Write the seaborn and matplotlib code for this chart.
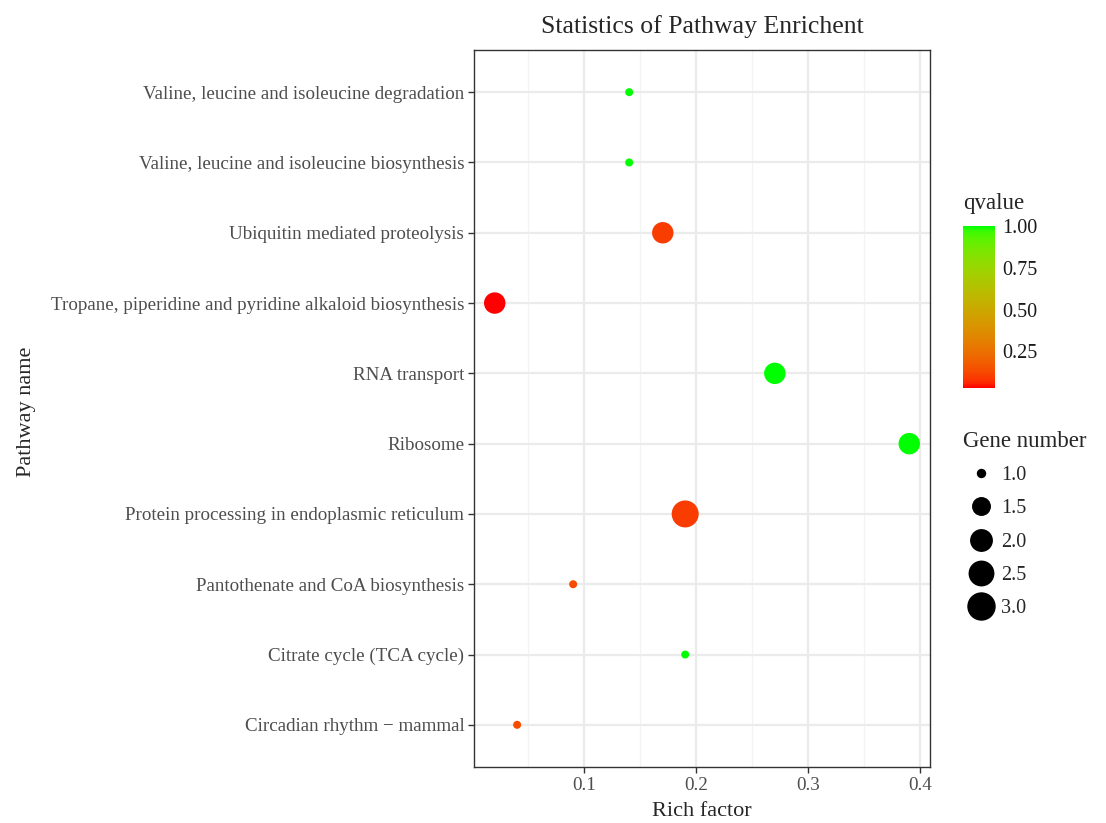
import numpy as np
import pandas as pd
import matplotlib
import matplotlib.pyplot as plt
import seaborn as sns
from matplotlib.colors import LinearSegmentedColormap, Normalize
from matplotlib.lines import Line2D
from matplotlib.ticker import MultipleLocator

pathways = [
    "Valine, leucine and isoleucine degradation",
    "Valine, leucine and isoleucine biosynthesis",
    "Ubiquitin mediated proteolysis",
    "Tropane, piperidine and pyridine alkaloid biosynthesis",
    "RNA transport",
    "Ribosome",
    "Protein processing in endoplasmic reticulum",
    "Pantothenate and CoA biosynthesis",
    "Citrate cycle (TCA cycle)",
    "Circadian rhythm \u2212 mammal",
]
rich_factor = [0.14, 0.14, 0.17, 0.02, 0.27, 0.39, 0.19, 0.09, 0.19, 0.04]
qvalue = [1.0, 1.0, 0.10, 0.03, 1.0, 1.0, 0.10, 0.13, 1.0, 0.13]
gene_number = [1, 1, 2, 2, 2, 2, 3, 1, 1, 1]

size_levels = [1.0, 1.5, 2.0, 2.5, 3.0]
q_ticks = [0.25, 0.50, 0.75, 1.00]

df = pd.DataFrame({"pathway": pathways, "rich": rich_factor,
                   "q": qvalue, "genes": gene_number})

sns.set_theme(style="white")
plt.rcParams["font.family"] = ["Liberation Serif", "DejaVu Serif"]


# red -> green gradient interpolated in Lab space (like ggplot2)
def srgb_to_lab(rgb):
    c = np.array(rgb, dtype=float)
    c = np.where(c > 0.04045, ((c + 0.055) / 1.055) ** 2.4, c / 12.92)
    m = np.array([[0.4124, 0.3576, 0.1805],
                  [0.2126, 0.7152, 0.0722],
                  [0.0193, 0.1192, 0.9505]])
    xyz = m @ c / np.array([0.95047, 1.0, 1.08883])
    f = np.where(xyz > 0.008856, np.cbrt(xyz), 7.787 * xyz + 16 / 116)
    return np.array([116 * f[1] - 16, 500 * (f[0] - f[1]), 200 * (f[1] - f[2])])


def lab_to_srgb(lab):
    L, a, b = lab
    fy = (L + 16) / 116
    fx = fy + a / 500
    fz = fy - b / 200
    f = np.array([fx, fy, fz])
    xyz = np.where(f ** 3 > 0.008856, f ** 3, (f - 16 / 116) / 7.787)
    xyz = xyz * np.array([0.95047, 1.0, 1.08883])
    minv = np.array([[3.2406, -1.5372, -0.4986],
                     [-0.9689, 1.8758, 0.0415],
                     [0.0557, -0.2040, 1.0570]])
    c = minv @ xyz
    c = np.where(c > 0.0031308, 1.055 * np.clip(c, 0, None) ** (1 / 2.4) - 0.055, 12.92 * c)
    return np.clip(c, 0, 1)


lab_lo = srgb_to_lab([1, 0, 0])
lab_hi = srgb_to_lab([0, 1, 0])
stops = np.linspace(0, 1, 41)
cmap = LinearSegmentedColormap.from_list(
    "rg", [(t, lab_to_srgb(lab_lo + t * (lab_hi - lab_lo))) for t in stops])
q_norm = Normalize(vmin=min(qvalue), vmax=max(qvalue))


def area(g):
    # ggplot-like area scale: diameter grows with sqrt of value
    d_px = 4.2 + 3.8 * (1 + 5 * np.sqrt((g - 1) / 2))
    return (d_px * 0.72) ** 2


fig = plt.figure(figsize=(11.06, 8.23), dpi=100)
ax = fig.add_axes([474 / 1106, 1 - 767 / 823, (930 - 474) / 1106, (767 - 50) / 823])

sns.scatterplot(data=df, x="rich", y="pathway", hue="q", hue_norm=q_norm,
                palette=cmap, size="genes",
                sizes={g: area(g) for g in sorted(set(gene_number))},
                linewidth=0, legend=False, ax=ax, zorder=3)

ax.set_xlim(0.0015, 0.4085)
ax.set_ylim(len(pathways) - 0.4, -0.6)
ax.xaxis.set_major_locator(MultipleLocator(0.1))
ax.xaxis.set_minor_locator(MultipleLocator(0.05))
ax.set_xticks([0.1, 0.2, 0.3, 0.4])
ax.set_xticklabels(["0.1", "0.2", "0.3", "0.4"])
ax.grid(which="major", color="#EBEBEB", linewidth=1.6, zorder=0)
ax.grid(which="minor", axis="x", color="#F3F3F3", linewidth=0.9, zorder=0)
ax.set_axisbelow(True)
for s in ax.spines.values():
    s.set_color("#333333")
    s.set_linewidth(1.0)
ax.tick_params(axis="both", which="major", length=4, width=1, color="#333333",
               labelcolor="#4D4D4D", labelsize=13.7, bottom=True, left=True, pad=3)
ax.tick_params(axis="x", which="minor", length=0)
ax.set_xlabel("Rich factor", fontsize=16, labelpad=6)
ax.set_ylabel("Pathway name", fontsize=16)
ax.yaxis.set_label_coords(36 / 1106, 0.5, transform=fig.transFigure)
ax.set_title("Statistics of Pathway Enrichent", fontsize=18.5, pad=12)

# colour bar
cax = fig.add_axes([963 / 1106, 1 - 388 / 823, 32 / 1106, 162 / 823])
sm = matplotlib.cm.ScalarMappable(norm=q_norm, cmap=cmap)
cb = fig.colorbar(sm, cax=cax, ticks=q_ticks)
cb.outline.set_visible(False)
cb.set_ticklabels(["0.25", "0.50", "0.75", "1.00"])
cax.yaxis.set_ticks_position("both")
cax.tick_params(length=6, width=1, color="white", direction="in",
                labelsize=14.5, labelcolor="#1A1A1A", pad=5,
                labelleft=False, labelright=True)
fig.text(963 / 1106, 1 - 204 / 823, "qvalue", fontsize=16.5, va="center", ha="left")

# size legend
handles = [Line2D([], [], marker="o", linestyle="", color="black",
                  markersize=np.sqrt(area(g))) for g in size_levels]
leg = fig.legend(handles, [f"{g:.1f}" for g in size_levels], title="Gene number",
                 loc="upper left", bbox_to_anchor=(955 / 1106, 1 - 423 / 823),
                 frameon=False, fontsize=14.5, title_fontsize=16.5,
                 labelspacing=0.7, handletextpad=0.1, handlelength=1.8,
                 borderaxespad=0)
leg._legend_box.align = "left"

fig.savefig("out.png", dpi=100)
